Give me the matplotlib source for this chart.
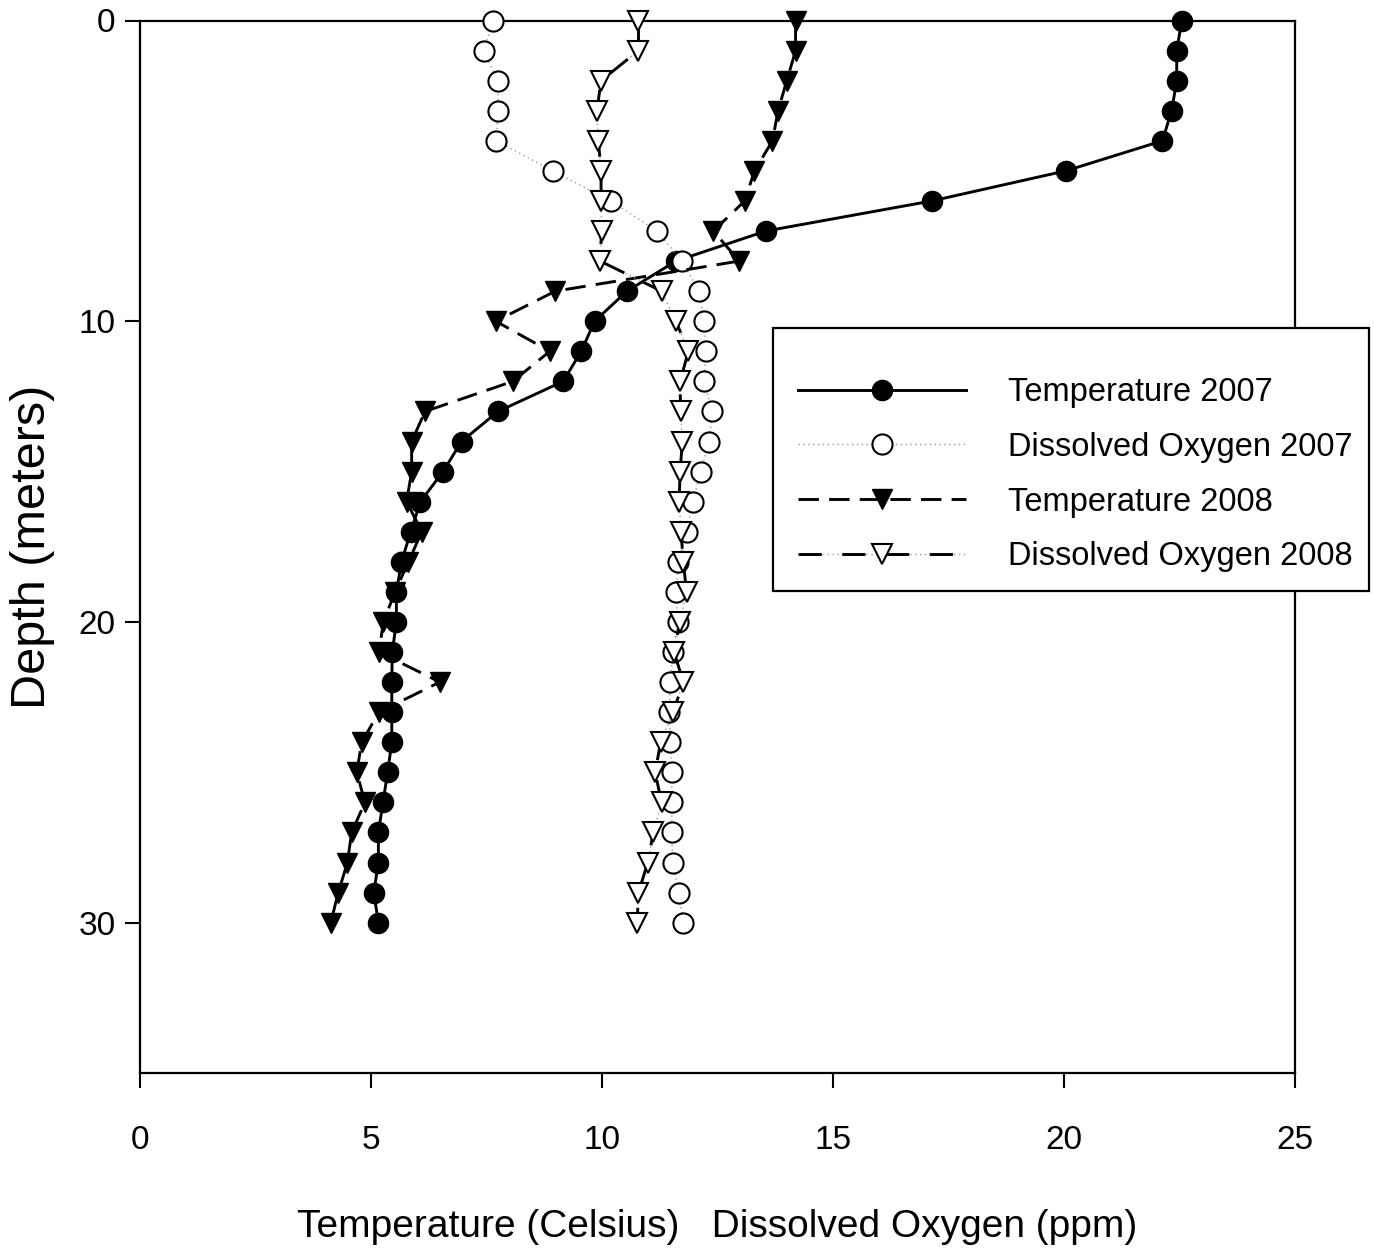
import matplotlib
matplotlib.use("Agg")
import matplotlib.pyplot as plt
from matplotlib.patches import Rectangle
from matplotlib.legend_handler import HandlerTuple

depth = list(range(0, 31))

temp_2007 = [22.55, 22.44, 22.44, 22.33, 22.13, 20.04, 17.14, 13.55, 11.60, 10.54,
             9.84, 9.55, 9.16, 7.75, 6.96, 6.56, 6.07, 5.86, 5.66, 5.55,
             5.55, 5.46, 5.45, 5.45, 5.45, 5.36, 5.26, 5.16, 5.16, 5.06, 5.16]

do_2007 = [7.64, 7.44, 7.74, 7.75, 7.71, 8.93, 10.19, 11.19, 11.73, 12.10,
           12.21, 12.25, 12.21, 12.39, 12.32, 12.14, 11.96, 11.83, 11.65, 11.61,
           11.64, 11.54, 11.47, 11.46, 11.47, 11.51, 11.51, 11.51, 11.53, 11.67, 11.76]

temp_2008 = [14.19, 14.19, 14.00, 13.81, 13.69, 13.30, 13.09, 12.41, 12.97, 8.99,
             7.70, 8.87, 8.07, 6.17, 5.88, 5.88, 5.77, 6.10, 5.81, 5.52,
             5.27, 5.17, 6.49, 5.17, 4.80, 4.69, 4.87, 4.58, 4.49, 4.29, 4.13]

do_2008 = [10.79, 10.79, 9.98, 9.89, 9.92, 9.98, 9.98, 9.99, 9.96, 11.29,
           11.60, 11.87, 11.69, 11.70, 11.74, 11.69, 11.67, 11.71, 11.76, 11.83,
           11.68, 11.56, 11.76, 11.54, 11.27, 11.15, 11.29, 11.11, 10.99, 10.79, 10.76]

series_labels = ["Temperature 2007", "Dissolved Oxygen 2007",
                 "Temperature 2008", "Dissolved Oxygen 2008"]
x_ticks = [0, 5, 10, 15, 20, 25]
y_ticks = [0, 10, 20, 30]
x_label = "Temperature (Celsius)   Dissolved Oxygen (ppm)"
y_label = "Depth (meters)"

plt.rcParams["font.family"] = ["Liberation Sans", "DejaVu Sans"]

W, H = 1374, 1253
fig = plt.figure(figsize=(W / 100, H / 100), dpi=100)
ax = fig.add_axes([140 / W, 1 - 1073 / H, (1295 - 140) / W, (1073 - 20.5) / H])

ms = 14.5
lw = 2.1

h1, = ax.plot(temp_2007, depth, color="black", lw=lw, marker="o", ms=ms,
              mfc="black", mec="black", zorder=3, clip_on=False)
h2, = ax.plot(do_2007, depth, color="#9a9a9a", lw=1.0, ls=(0, (1, 2.5)), marker="o",
              ms=ms, mfc="white", mec="black", mew=1.5, zorder=4, clip_on=False)
h3, = ax.plot(temp_2008, depth, color="black", lw=lw, ls=(0, (7, 3.5)), marker="v",
              ms=ms + 0.5, mfc="black", mec="black", zorder=5, clip_on=False)
h4a, = ax.plot(do_2008, depth, color="#9a9a9a", lw=1.0, ls=(0, (1, 2.5)), zorder=5.5,
               clip_on=False)
h4, = ax.plot(do_2008, depth, color="black", lw=lw, ls=(0, (8, 7)), marker="v",
              ms=ms + 0.5, mfc="white", mec="black", mew=1.5, zorder=6, clip_on=False)

ax.set_xlim(0, 25)
ax.set_ylim(35, 0)
ax.set_xticks(x_ticks)
ax.set_yticks(y_ticks)
ax.set_xticklabels([str(v) for v in x_ticks])
ax.set_yticklabels([str(v) for v in y_ticks])
ax.tick_params(axis="both", direction="out", length=10.5, width=1.5, labelsize=24,
               colors="black")
ax.tick_params(axis="x", pad=27)
ax.tick_params(axis="y", pad=7)
for s in ax.spines.values():
    s.set_linewidth(1.6)
    s.set_color("black")

ax.set_xlabel(x_label, fontsize=28, labelpad=38)
ax.set_ylabel(y_label, fontsize=35, labelpad=17)

# legend box
fig.add_artist(Rectangle((773 / W, 1 - 591 / H), (1369 - 773) / W, (591 - 328) / H,
                         transform=fig.transFigure, facecolor="white",
                         edgecolor="black", lw=1.6, zorder=4))

leg = fig.legend([h1, h2, h3, (h4a, h4)], series_labels,
                 handler_map={tuple: HandlerTuple(ndivide=1, pad=0)},
                 loc="upper left", bbox_to_anchor=(798 / W, 1 - 377 / H),
                 fontsize=23.5, numpoints=1, handlelength=5.15, handletextpad=1.29,
                 labelspacing=0.73, borderpad=0, borderaxespad=0,
                 frameon=False)
leg.set_zorder(5)

fig.savefig("out.png", dpi=100, facecolor="white")
